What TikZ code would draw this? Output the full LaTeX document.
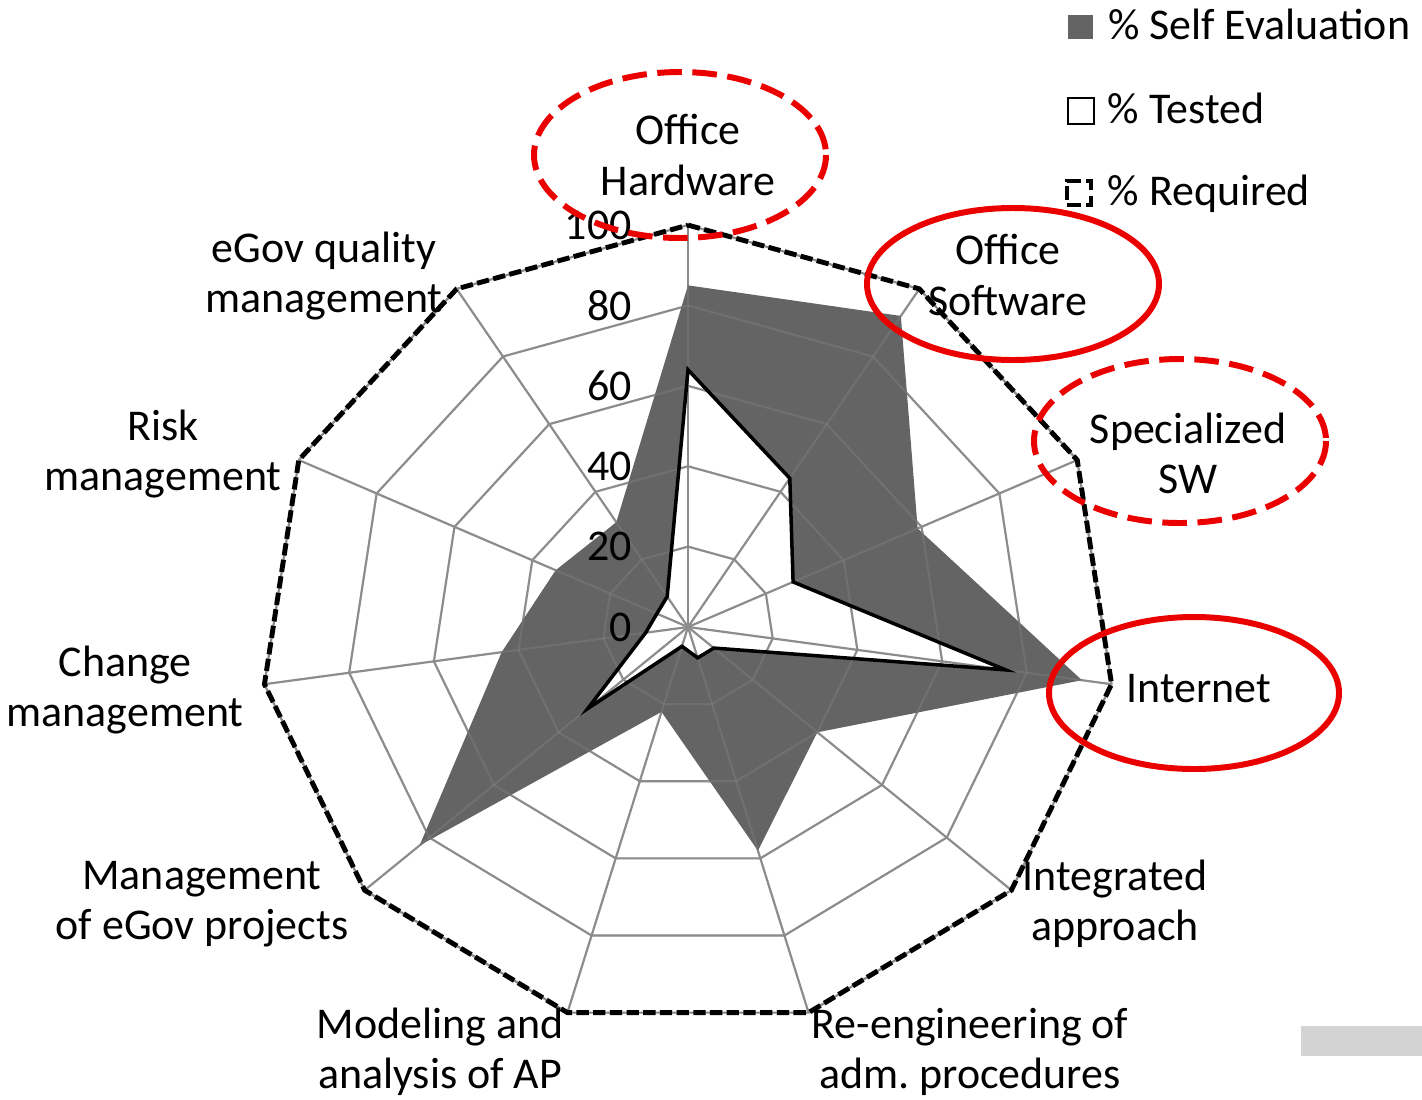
\documentclass[tikz,border=0pt]{standalone}
\usepackage{fontspec}
\setmainfont{Carlito}
\usetikzlibrary{positioning}

\definecolor{selfgray}{RGB}{100,100,100}
\definecolor{gridgray}{RGB}{140,140,140}
\definecolor{markred}{RGB}{235,0,0}
\definecolor{boxgray}{RGB}{211,211,211}

\tikzset{
  gridline/.style={gridgray, line width=1.2pt},
  requiredline/.style={black, line width=2.8pt, dash pattern=on 7pt off 2.5pt},
  testedline/.style={black, line width=2pt},
  ring/.style={markred, line width=3.4pt},
  dashring/.style={ring, dash pattern=on 14pt off 6pt},
  axislabel/.style={align=center, inner sep=0pt},
  scalelabel/.style={anchor=east, inner sep=0pt},
  legendtext/.style={inner sep=0pt, text height=0.64em, text depth=0pt, yshift=-0.14cm},
}

% spider web: rings at 20..100 and the 11 spokes
\newcommand{\radarweb}[1]{%
  \foreach \r in {20,40,...,100}
    \draw[gridline, draw opacity=#1] (90:\r/100) \foreach \k in {1,...,10} {-- ({90-\k*360/11}:\r/100)} -- cycle;
  \foreach \k in {0,...,10}
    \draw[gridline, draw opacity=#1] (0,0) -- ({90-\k*360/11}:1);
}

\begin{document}
\begin{tikzpicture}[x=0.02cm, y=-0.02cm, font=\fontsize{25}{28.5}\selectfont]
\useasboundingbox (0,0) rectangle (1422,1099);

\begin{scope}[shift={(688,627)}, x=8.56cm, y=8.04cm]
\radarweb{1}
% self evaluation (grey) with the tested area cut out
\fill[selfgray, even odd rule]
  (90:0.85) \foreach \v [count=\k] in {92,59,93,40,58,22,83,44,34,31} {-- ({90-\k*360/11}:\v/100)} -- cycle
  (90:0.64) \foreach \v [count=\k] in {44,27,75,8,8,5,31,10,8,9} {-- ({90-\k*360/11}:\v/100)} -- cycle;
\radarweb{0.3}
% tested
\draw[testedline] (90:0.64) \foreach \v [count=\k] in {44,27,75,8,8,5,31,10,8,9} {-- ({90-\k*360/11}:\v/100)} -- cycle;
% required
\draw[requiredline] (90:1) \foreach \k in {1,...,10} {-- ({90-\k*360/11}:1)} -- cycle;
\foreach \v in {0,20,...,100}
  \node[scalelabel] (tick\v) at (-0.131,\v/100) {\v};
\end{scope}

% axis labels
\node[axislabel] (hw) at (688,155) {Office\\Hardware};
\node[axislabel] (sw) at (1008,275) {Office\\Software};
\node[axislabel] (ssw) at (1188,453) {Specialized\\SW};
\node[axislabel, anchor=west] (inet) at (1126,689) {Internet};
\node[axislabel] (integ) at (1115,904) {Integrated\\approach};
\node[axislabel] (reeng) at (970,1052) {Re-engineering of\\adm.\ procedures};
\node[axislabel] (model) at (440,1052) {Modeling and\\analysis of AP};
\node[axislabel] (mgmt) at (202,904) {Management\\of eGov projects};
\node[axislabel] (change) at (125,690) {Change\\management};
\node[axislabel] (risk) at (163,454) {Risk\\management};
\node[axislabel] (quality) at (324,276) {eGov quality\\management};

% red marks
\draw[dashring] (680,155) ellipse [x radius=146, y radius=83];
\draw[ring] (1013,284) ellipse [x radius=146, y radius=76];
\draw[dashring] (1180,441) ellipse [x radius=146, y radius=82];
\draw[ring] (1194,693) ellipse [x radius=145, y radius=76];

% legend
\node[fill=selfgray, minimum size=0.5cm, inner sep=0pt] (selfkey) at (1080,27) {};
\node[legendtext, right=0.3cm of selfkey] (selftext) {\% Self Evaluation};
\node[draw, line width=1.6pt, minimum size=0.52cm, inner sep=0pt] (testedkey) at (1081,111) {};
\node[legendtext, right=0.24cm of testedkey] (testedtext) {\% Tested};
\node[draw, line width=2.8pt, dash pattern=on 8pt off 3pt, minimum size=0.48cm, inner sep=0pt] (requiredkey) at (1079,193) {};
\node[legendtext, right=0.28cm of requiredkey] (requiredtext) {\% Required};

\fill[boxgray] (1301,1026) rectangle (1422,1056);
\end{tikzpicture}
\end{document}
